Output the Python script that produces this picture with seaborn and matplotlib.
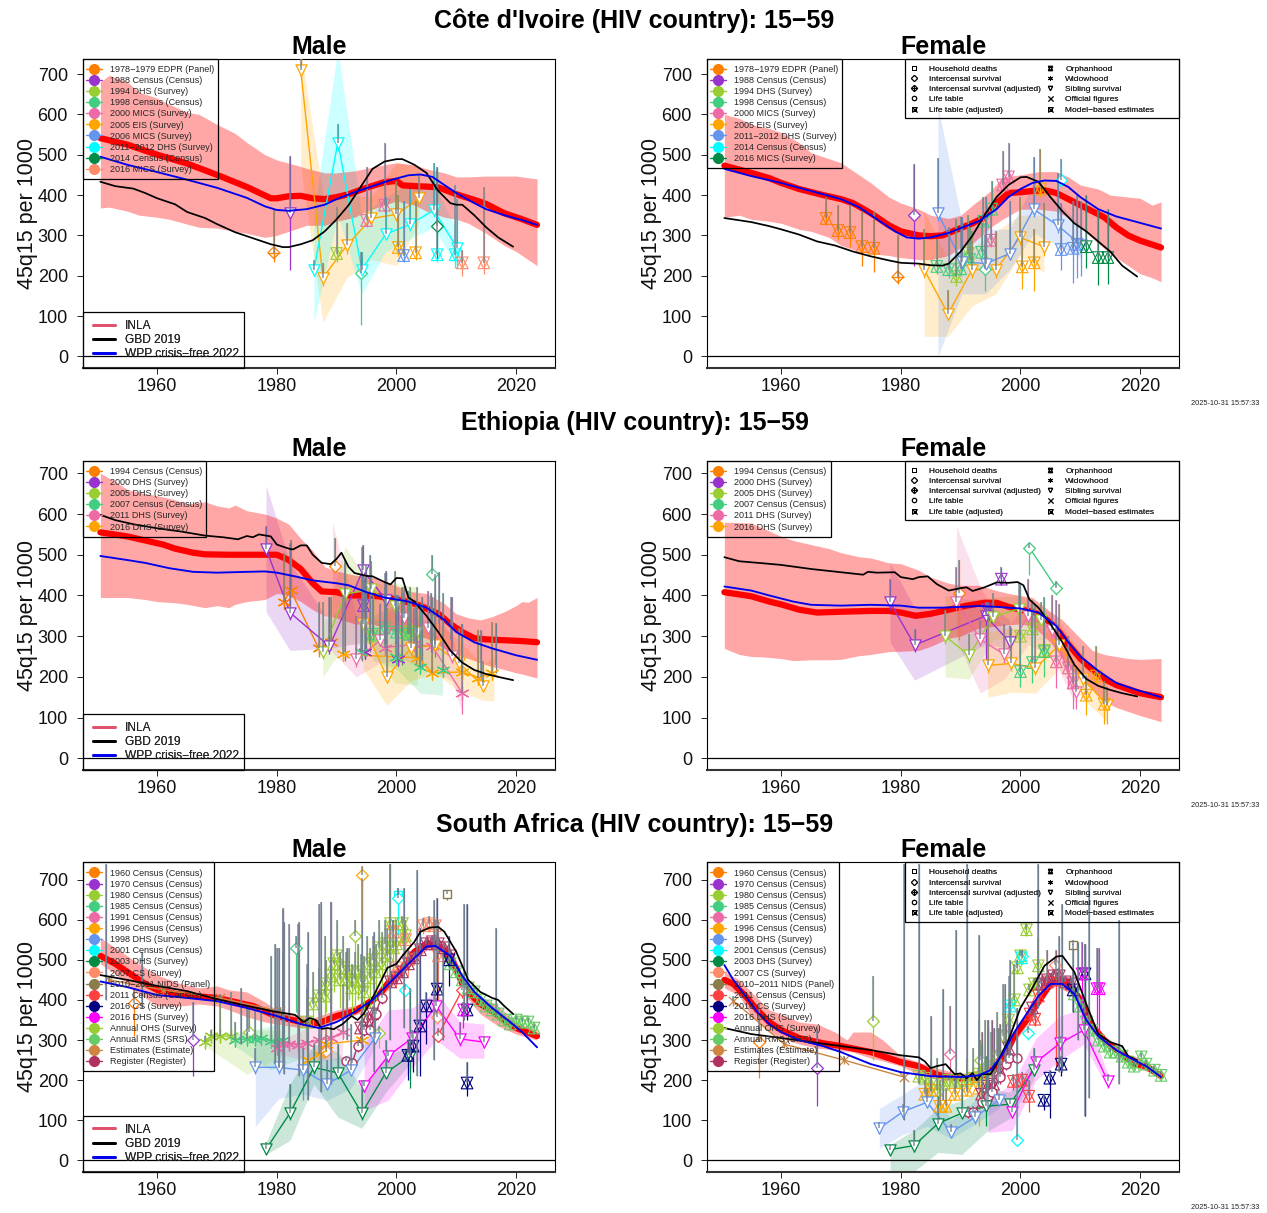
import matplotlib
matplotlib.use("Agg")
import matplotlib.pyplot as plt
from matplotlib.lines import Line2D
from matplotlib.patches import Rectangle
import seaborn as sns

sns.set_theme(style="ticks")
plt.rcParams["font.family"] = ["Liberation Sans", "DejaVu Sans"]

# Colours of the surveys, same order as the legends
ORANGE1, PURPLE, YGREEN, SEA3 = "#FF7F00", "#9A32CD", "#9ACD32", "#43CD80"
PINK, ORANGE, CORN, CYAN = "#EE6AA7", "#FFA500", "#6495ED", "#00FFFF"
SEA4, SALMON, NIDS, RED = "#008B45", "#FF8C69", "#8B7D4B", "#FF4040"
NAVY, MAGENTA, RMS, PERU, MAROON = "#000080", "#FF00FF", "#66CD66", "#CD853F", "#B03060"
GREY = "#708090"

# ---- Cote d'Ivoire male: curves
ci_m_x = [1950.5, 1955, 1960, 1965, 1970, 1975, 1979, 1980, 1982, 1984, 1986, 1988, 1990, 1992, 1995, 1998, 2000, 2001, 2003, 2005, 2007, 2010, 2013, 2015, 2018, 2021, 2023.5]
ci_m_inla = [541, 525, 500, 478, 450, 420, 392, 392, 397, 398, 392, 390, 395, 402, 418, 432, 435, 424, 422, 421, 419, 402, 388, 378, 355, 340, 326]
ci_m_band_x = [1950.5, 1952, 1955, 1957, 1960, 1962, 1965, 1967, 1970, 1973, 1975, 1978, 1980, 1983, 1985, 1988, 1990, 1993, 1995, 1998, 2000, 2003, 2005, 2008, 2010, 2012, 2015, 2018, 2020, 2023.5]
ci_m_hi = [680, 697, 680, 655, 640, 625, 605, 600, 575, 553, 530, 500, 487, 475, 466, 455, 455, 460, 466, 475, 480, 475, 465, 455, 445, 445, 447, 447, 447, 440]
ci_m_lo = [368, 370, 360, 350, 345, 340, 328, 320, 318, 310, 305, 295, 300, 315, 325, 325, 335, 345, 360, 375, 385, 375, 360, 345, 340, 330, 305, 275, 260, 225]
ci_m_gbd_x = [1950.5, 1953, 1956, 1958, 1960, 1963, 1965, 1968, 1970, 1973, 1976, 1979, 1981, 1982, 1984, 1986, 1988, 1990, 1992, 1994, 1996, 1998, 2000, 2001, 2003, 2005, 2007, 2009, 2010, 2011, 2013, 2015, 2017, 2019.5]
ci_m_gbd = [433, 422, 416, 405, 392, 377, 358, 343, 328, 308, 293, 278, 271, 271, 278, 288, 310, 340, 375, 420, 465, 483, 489, 489, 475, 455, 410, 380, 376, 376, 350, 320, 295, 272]
ci_m_wpp_x = [1950.5, 1955, 1960, 1965, 1970, 1975, 1978, 1980, 1982, 1985, 1988, 1990, 1993, 1996, 1999, 2002, 2004, 2006, 2008, 2010, 2013, 2015, 2018, 2021, 2023.5]
ci_m_wpp = [495, 475, 457, 438, 418, 393, 372, 363, 361, 365, 376, 390, 407, 422, 437, 449, 451, 445, 425, 405, 380, 365, 350, 338, 326]
# rows are year, value, lower, upper
ci_m_edpr = [(1979.5, 257, 235, 365)]
ci_m_c88 = [(1982.2, 355, 215, 497)]
ci_m_dhs94 = [(1990, 255, 235, 370)]
ci_m_c98 = [(1994, 207, 78, 258)]
ci_m_mics00 = [(1995, 337, 320, 470), (1998, 375, 355, 530)]
ci_m_eis_sib = [(1984, 710, 690, 740), (1987.7, 195, 175, 232), (1991.7, 275, 255, 330), (1995.8, 342, 325, 415), (2000, 352, 335, 435), (2003.8, 392, 375, 450)]
ci_m_eis_orph = [(2000.3, 270, 250, 400), (2003.2, 257, 240, 385)]
ci_m_mics06 = [(2001.2, 250, 235, 385)]
ci_m_dhs11_sib = [(1986.2, 215, 200, 240), (1990.2, 530, 510, 575), (1994.2, 215, 200, 258), (1998.2, 303, 290, 395), (2002.2, 327, 310, 415), (2006.2, 362, 345, 480), (2010.2, 268, 220, 390)]
ci_m_dhs11_orph = [(2006.8, 252, 235, 465), (2009.8, 252, 220, 425)]
ci_m_c14 = [(2006.8, 323, 240, 470)]
ci_m_mics16 = [(2011, 232, 200, 265), (2014.6, 232, 205, 420)]
ci_m_eis_band = [(1984, 470, 760), (1987.7, 85, 400), (1991.7, 195, 400), (1995.8, 240, 395), (2000, 225, 480), (2003.8, 330, 470)]
ci_m_dhs11_band = [(1986.2, 85, 360), (1990.2, 350, 760), (1994.2, 155, 350), (1998.2, 260, 395), (2002.2, 290, 430), (2006.2, 320, 430), (2010.2, 220, 310)]

# ---- Cote d'Ivoire female: curves
ci_f_x = [1950.5, 1955, 1958, 1960, 1963, 1967, 1970, 1972, 1975, 1978, 1980, 1983, 1985, 1987, 1990, 1992, 1994, 1996, 1998, 2000, 2002, 2004, 2006, 2008, 2010, 2012, 2014, 2016, 2018, 2020, 2023.5]
ci_f_inla = [473, 455, 442, 430, 415, 400, 390, 380, 355, 325, 310, 300, 298, 300, 318, 330, 345, 380, 405, 407, 410, 412, 405, 390, 375, 360, 345, 320, 300, 287, 270]
ci_f_band_x = [1950.5, 1953, 1955, 1958, 1960, 1963, 1965, 1968, 1970, 1973, 1975, 1978, 1980, 1983, 1985, 1988, 1990, 1992, 1995, 1997, 2000, 2003, 2006, 2008, 2010, 2013, 2015, 2018, 2020, 2022, 2023.5]
ci_f_hi = [600, 590, 575, 565, 555, 530, 505, 490, 480, 450, 430, 395, 380, 365, 350, 342, 350, 375, 410, 445, 450, 458, 458, 445, 425, 415, 400, 395, 392, 375, 383]
ci_f_lo = [345, 350, 340, 335, 330, 315, 310, 295, 275, 260, 255, 250, 245, 240, 240, 250, 270, 280, 320, 340, 365, 365, 360, 345, 320, 280, 255, 225, 205, 195, 185]
ci_f_gbd_x = [1950.5, 1955, 1958, 1960, 1963, 1966, 1969, 1972, 1975, 1978, 1980, 1983, 1985, 1987, 1988, 1990, 1992, 1994, 1996, 1998, 2000, 2001, 2003, 2005, 2007, 2009, 2011, 2013, 2015, 2017, 2019.5]
ci_f_gbd = [343, 333, 323, 315, 302, 285, 275, 260, 248, 238, 232, 230, 226, 225, 230, 260, 300, 350, 395, 425, 444, 445, 433, 395, 360, 330, 310, 285, 260, 225, 198]
ci_f_wpp_x = [1950.5, 1955, 1960, 1965, 1970, 1973, 1976, 1979, 1981, 1983, 1985, 1988, 1990, 1993, 1996, 1998, 2000, 2002, 2004, 2006, 2008, 2010, 2013, 2016, 2019, 2023.5]
ci_f_wpp = [465, 447, 430, 410, 390, 370, 340, 310, 295, 292, 295, 306, 318, 335, 365, 395, 415, 430, 436, 435, 420, 395, 365, 347, 335, 317]
ci_f_edpr_d = [(1979.5, 197, 180, 300)]
ci_f_edpr_o = [(1967.5, 342, 325, 395), (1969.5, 312, 288, 375), (1971.5, 307, 270, 375), (1973.5, 272, 225, 360), (1975.5, 268, 210, 360)]
ci_f_c88 = [(1982.2, 350, 225, 478)]
ci_f_dhs94 = [(1989.3, 198, 175, 340), (1991.3, 255, 235, 350)]
ci_f_c98_o = [(1986, 223, 205, 290), (1988, 215, 195, 320), (1990, 217, 200, 345), (1991.5, 240, 220, 320), (1993.5, 258, 240, 330)]
ci_f_c98_o2 = [(1993.8, 335, 320, 395), (1995.2, 365, 350, 435)]
ci_f_c98_d = [(1994, 217, 163, 300)]
ci_f_mics00 = [(1995, 288, 270, 360), (1997, 425, 410, 510), (1998, 445, 430, 530)]
ci_f_eis_sib = [(1983.9, 215, 195, 315), (1987.9, 105, 90, 165), (1991.9, 215, 195, 310), (1995.9, 215, 195, 310), (1999.9, 295, 275, 395), (2003.9, 272, 250, 380)]
ci_f_eis_orph = [(2000.3, 222, 167, 310), (2002.3, 232, 162, 315), (2003.3, 415, 395, 515)]
ci_f_dhs11_sib = [(1986.2, 355, 335, 492), (1990.2, 235, 215, 345), (1994.2, 230, 210, 395), (1998.2, 255, 240, 385), (2002.2, 365, 345, 495), (2006.2, 325, 305, 455), (2010.2, 275, 200, 385)]
ci_f_dhs11_orph = [(2006.8, 265, 215, 380), (2008.8, 268, 182, 385), (2009.5, 278, 195, 400)]
ci_f_c14 = [(2006.8, 438, 420, 490)]
ci_f_mics16 = [(2011, 272, 220, 400), (2013, 245, 177, 365), (2014.6, 245, 180, 365)]
ci_f_eis_band = [(1983.9, 50, 360), (1987.9, 50, 240), (1991.9, 125, 270), (1995.9, 155, 310), (1999.9, 250, 350), (2003.9, 208, 350)]
ci_f_dhs11_band = [(1986.2, 0, 620), (1990.2, 155, 335), (1994.2, 155, 315), (1998.2, 215, 315), (2002.2, 305, 430), (2006.2, 275, 385), (2010.2, 245, 320)]

# ---- Ethiopia male: curves
et_m_x = [1950.5, 1955, 1958, 1961, 1963, 1966, 1968, 1972, 1976, 1980, 1982, 1984, 1986, 1987.5, 1990, 1992, 1995, 1997, 2000, 2003, 2005, 2007, 2009, 2011, 2013, 2015, 2018, 2021, 2023.5]
et_m_inla = [555, 545, 535, 525, 515, 505, 501, 500, 500, 500, 487, 465, 430, 410, 408, 400, 400, 398, 390, 380, 368, 355, 330, 310, 295, 292, 290, 288, 285]
et_m_band_x = [1950.5, 1953, 1955, 1958, 1960, 1963, 1965, 1968, 1970, 1972, 1973, 1975, 1978, 1980, 1982, 1984, 1986, 1988, 1990, 1993, 1996, 1999, 2002, 2005, 2008, 2010, 2012, 2014, 2016, 2018, 2020, 2021, 2022, 2023.5]
et_m_hi = [700, 680, 660, 650, 645, 635, 625, 630, 620, 615, 622, 608, 600, 590, 575, 540, 510, 470, 460, 450, 445, 430, 410, 405, 380, 355, 345, 340, 348, 360, 375, 385, 383, 395]
et_m_lo = [395, 395, 395, 390, 385, 382, 378, 370, 375, 370, 378, 385, 390, 405, 400, 385, 365, 350, 345, 330, 330, 315, 305, 295, 270, 255, 245, 235, 225, 218, 210, 207, 203, 197]
et_m_gbd_x = [1950.5, 1953, 1956, 1960, 1964, 1968, 1971, 1973.5, 1975, 1976, 1977, 1979, 1980, 1982, 1982.7, 1984, 1985, 1986, 1987.5, 1989, 1990, 1990.8, 1992, 1993, 1995, 1996, 1998, 1999, 2000, 2001, 2002, 2003, 2005, 2007, 2009, 2011, 2013, 2015, 2017, 2019.5]
et_m_gbd = [598, 585, 575, 565, 557, 547, 543, 538, 546, 543, 550, 545, 525, 515, 513, 523, 523, 500, 480, 477, 490, 505, 470, 455, 448, 447, 433, 427, 443, 442, 395, 385, 350, 310, 265, 235, 217, 207, 200, 192]
et_m_wpp_x = [1950.5, 1955, 1958, 1962, 1966, 1970, 1975, 1978, 1980, 1983, 1986, 1990, 1992, 1995, 1998, 2002, 2005, 2008, 2010, 2013, 2016, 2020, 2023.5]
et_m_wpp = [497, 487, 480, 467, 458, 456, 458, 459, 456, 447, 437, 430, 425, 408, 395, 385, 370, 340, 310, 285, 270, 253, 242]
et_m_c94_w = [(1981.2, 385, 370, 505), (1982.3, 413, 395, 535), (1987, 270, 250, 385), (1989, 285, 265, 395)]
et_m_c94_d = [(1989.7, 472, 455, 540)]
et_m_d00_s = [(1978.2, 515, 500, 570), (1982.2, 358, 340, 530), (1988.8, 275, 255, 395), (1994.4, 462, 445, 525), (1998.2, 390, 375, 460)]
et_m_d00_w = [(1994.7, 262, 245, 445), (2000.3, 245, 230, 400)]
et_m_d00_o = [(1994.5, 375, 360, 440)]
et_m_d05_s = [(1987.7, 262, 245, 385), (1991.4, 403, 385, 480), (1995.7, 415, 400, 485), (1999.7, 375, 360, 460), (2003.5, 310, 295, 420)]
et_m_d05_o = [(1996, 300, 285, 400), (2001, 310, 290, 420), (2002.3, 305, 285, 420)]
et_m_c07_d = [(2006, 452, 435, 500)]
et_m_c07_o = [(1996, 305, 290, 390), (1998, 320, 300, 420), (2000, 310, 290, 400), (2002, 305, 285, 410)]
et_m_c07_w = [(1994, 260, 245, 340), (2000, 250, 235, 355), (2004, 225, 210, 380), (2007.7, 218, 205, 405)]
et_m_d11_s = [(1993.3, 243, 225, 350), (1997.3, 290, 275, 380), (2001.3, 345, 330, 420), (2005.3, 320, 305, 410), (2009.3, 252, 235, 395)]
et_m_d11_w = [(1998, 272, 255, 380), (2003, 280, 265, 370), (2006, 275, 260, 395), (2011, 160, 110, 330)]
et_m_d16_s = [(1994.4, 330, 315, 445), (1998.4, 200, 185, 370), (2002.4, 270, 255, 390), (2006.4, 278, 260, 400), (2010.4, 235, 215, 320), (2014.4, 178, 165, 240)]
et_m_d16_w = [(1991, 255, 240, 400), (2003.5, 247, 230, 340), (2006, 210, 195, 390), (2011, 212, 195, 310), (2013.7, 198, 180, 315), (2016, 210, 195, 335)]
et_m_tall = [(1991.4, 260, 240, 487), (1994.2, 260, 240, 520), (1994.9, 280, 260, 475), (1995.5, 280, 260, 500), (1998, 280, 260, 455), (1998.3, 280, 260, 455), (2000, 280, 260, 400), (2001, 250, 230, 407), (2003.3, 250, 230, 378), (2004.2, 240, 220, 395), (2005.7, 280, 260, 407), (2006.4, 270, 250, 452), (2007.1, 330, 310, 457), (2009.1, 290, 270, 395), (2011, 230, 210, 330), (2014.1, 200, 180, 315), (2016.6, 230, 210, 333)]
et_m_d00_band = [(1978.2, 360, 670), (1982.2, 265, 480), (1988.8, 270, 335), (1994.4, 285, 450)]
et_m_d05_band = [(1987.7, 200, 320), (1991.4, 280, 520), (1995.7, 280, 430), (1999.7, 185, 430), (2003.5, 180, 420)]
et_m_c07_band = [(1996, 240, 350), (2000, 220, 380), (2004, 160, 350), (2007.7, 155, 280)]
et_m_d11_band = [(1989.3, 260, 580), (1993.3, 200, 350), (1997.3, 235, 340), (2001.3, 240, 400), (2005.3, 220, 380), (2009.3, 190, 300), (2011, 110, 200)]
et_m_d16_band = [(1994.4, 220, 370), (1998.4, 130, 270), (2002.4, 190, 330), (2006.4, 210, 340), (2010.4, 165, 290), (2014.4, 143, 230), (2016.3, 140, 250)]

# ---- Ethiopia female: curves
et_f_x = [1950.5, 1955, 1958, 1960, 1963, 1966, 1970, 1975, 1978, 1980, 1982.5, 1985, 1988, 1991, 1994, 1996, 1998, 2000, 2002, 2004, 2006, 2008, 2010, 2012, 2014, 2016, 2018, 2020, 2023.5]
et_f_inla = [408, 398, 385, 378, 365, 358, 360, 362, 362, 358, 350, 355, 365, 375, 382, 382, 372, 365, 360, 345, 320, 280, 245, 218, 195, 180, 170, 160, 150]
et_f_band_x = [1950.5, 1953, 1955, 1957, 1960, 1962, 1965, 1968, 1970, 1973, 1975, 1978, 1980, 1983, 1985, 1988, 1990, 1993, 1996, 1998, 2000, 2002, 2005, 2007, 2010, 2012, 2014, 2016, 2018, 2020, 2023.5]
et_f_hi = [580, 579, 578, 565, 545, 535, 525, 515, 505, 495, 492, 480, 478, 462, 445, 430, 425, 425, 412, 405, 400, 395, 360, 340, 295, 265, 255, 250, 245, 243, 245]
et_f_lo = [270, 255, 250, 249, 245, 240, 242, 242, 243, 252, 255, 262, 263, 265, 275, 295, 300, 320, 325, 328, 330, 325, 285, 245, 195, 170, 140, 125, 115, 105, 90]
et_f_gbd_x = [1950.5, 1953, 1957, 1960, 1965, 1970, 1973.7, 1974.5, 1976, 1979, 1980, 1982, 1983, 1984.5, 1986, 1988, 1990, 1991, 1992, 1994, 1996, 1998, 1999.5, 2000.5, 2001.5, 2003, 2005, 2007, 2009, 2011, 2013, 2015, 2017, 2019.5]
et_f_gbd = [494, 484, 479, 475, 465, 457, 451, 458, 456, 457, 445, 440, 445, 447, 428, 412, 418, 420, 411, 420, 432, 431, 433, 425, 390, 370, 330, 285, 230, 195, 178, 168, 160, 152]
et_f_wpp_x = [1950.5, 1955, 1958, 1962, 1965, 1970, 1975, 1980, 1983, 1987, 1990, 1993, 1996, 2000, 2003, 2006, 2008, 2010, 2013, 2016, 2019, 2023.5]
et_f_wpp = [422, 412, 400, 385, 377, 375, 377, 375, 370, 370, 372, 374, 372, 368, 358, 325, 285, 250, 215, 185, 170, 150]
et_f_c94 = [(1989.8, 405, 290, 487)]
et_f_d00_s = [(1978.2, 383, 365, 440), (1982.3, 278, 260, 318), (1994.2, 350, 235, 385), (1998.2, 285, 265, 325)]
et_f_d00_o = [(1994.5, 365, 345, 385), (1996.8, 440, 425, 470)]
et_f_d05_s = [(1987.4, 300, 280, 365), (1991.4, 253, 235, 305), (1995.4, 347, 330, 405), (1999.7, 367, 345, 430), (2003.5, 340, 320, 385)]
et_f_d05_o = [(2000, 300, 280, 420), (2002, 318, 300, 390), (2004, 265, 245, 320)]
et_f_c07_d = [(2001.5, 517, 450, 530), (2006, 418, 400, 435)]
et_f_c07_o = [(2000, 213, 175, 425), (2002, 235, 185, 380), (2004, 262, 200, 395)]
et_f_d11_s = [(1989.3, 385, 365, 470), (1993.3, 292, 275, 340), (1997.3, 255, 235, 330), (2001.3, 350, 330, 440), (2005.3, 315, 295, 400), (2009.3, 163, 120, 220)]
et_f_d11_o = [(2006, 237, 172, 390), (2008, 222, 170, 300), (2008.8, 185, 120, 230)]
et_f_d16_s = [(1994.5, 228, 210, 350), (1998.5, 233, 215, 320), (2002.5, 222, 205, 380), (2006.5, 278, 260, 380), (2010.5, 195, 175, 275), (2014.5, 130, 85, 175)]
et_f_d16_o = [(2011, 155, 107, 205), (2012.7, 202, 185, 275), (2014, 133, 85, 190)]
et_f_d00_band = [(1978.2, 285, 480), (1982.3, 192, 370), (1994.2, 280, 380), (1998.2, 270, 340)]
et_f_d05_band = [(1987.4, 200, 400), (1991.4, 195, 390), (1995.4, 290, 395), (1999.7, 300, 400), (2003.5, 290, 375)]
et_f_d11_band = [(1989.3, 290, 570), (1993.3, 160, 420), (1997.3, 195, 315), (2001.3, 280, 385), (2005.3, 250, 355), (2009.3, 130, 220)]
et_f_d16_band = [(1994.5, 150, 310), (1998.5, 162, 320), (2002.5, 160, 290), (2006.5, 220, 335), (2010.5, 145, 250), (2014.5, 90, 185)]

# ---- South Africa male: curves
za_m_x = [1950.5, 1953, 1956, 1958, 1960, 1963, 1966, 1970, 1973, 1976, 1979, 1982, 1985, 1987, 1990, 1993, 1995, 1997, 1999, 2001, 2003, 2005, 2006, 2008, 2010, 2011, 2012, 2014, 2016, 2018, 2020, 2023.5]
za_m_inla = [510, 490, 460, 440, 425, 415, 410, 405, 395, 385, 365, 352, 342, 342, 360, 372, 390, 410, 450, 480, 520, 540, 538, 525, 480, 440, 420, 390, 372, 350, 330, 310]
za_m_band_x = [1950.5, 1953, 1956, 1958, 1960, 1964, 1967, 1970, 1972, 1975, 1978, 1980, 1983, 1986, 1990, 1994, 1996, 1999, 2002, 2005, 2007, 2009, 2011, 2014, 2017, 2020, 2023.5]
za_m_hi = [555, 530, 500, 480, 462, 440, 430, 435, 425, 420, 395, 375, 365, 355, 375, 390, 410, 465, 505, 550, 555, 530, 460, 410, 385, 345, 325]
za_m_lo = [490, 465, 425, 405, 385, 385, 390, 385, 375, 358, 345, 340, 333, 330, 345, 368, 390, 430, 480, 525, 520, 485, 420, 365, 335, 315, 300]
za_m_gbd_x = [1950.5, 1955, 1960, 1965, 1970, 1975, 1980, 1983, 1984.5, 1985.5, 1986.5, 1987.5, 1988.5, 1989.5, 1991, 1992.5, 1993.5, 1994.5, 1996, 1997.5, 1998.5, 2000, 2001, 2003, 2004, 2005.5, 2007, 2008, 2010, 2012, 2014, 2016, 2017, 2018, 2019.5]
za_m_gbd = [462, 450, 435, 422, 402, 385, 370, 363, 345, 355, 350, 328, 330, 327, 340, 360, 350, 365, 405, 450, 480, 490, 510, 545, 570, 580, 582, 570, 520, 450, 420, 405, 400, 385, 365]
za_m_wpp_x = [1950.5, 1955, 1960, 1965, 1970, 1975, 1980, 1984, 1987, 1990, 1993, 1996, 1999, 2002, 2005, 2006.5, 2009, 2011, 2013, 2016, 2019, 2021, 2023.5]
za_m_wpp = [446, 432, 412, 405, 397, 380, 360, 340, 330, 345, 370, 400, 445, 490, 533, 535, 510, 460, 420, 380, 345, 320, 282]
za_m_c60 = [(1956.2, 392, 310, 430)]
za_m_c70 = [(1966, 300, 210, 395)]
za_m_c80_d = [(1975.3, 320, 305, 380), (1993, 560, 490, 600), (1997, 318, 280, 335)]
za_m_c85_d = [(1983.2, 530, 370, 560)]
za_m_c96_d = [(1994.3, 712, 600, 735)]
za_m_c01_d = [(2000.3, 655, 560, 680), (2001.4, 425, 410, 440)]
za_m_c01_s = [(2000.3, 662, 650, 680)]
za_m_nids = [(2008.4, 665, 650, 675)]
za_m_c11_d = [(2006.9, 310, 295, 330), (2011, 425, 405, 445)]
za_m_cs07_d = [(2006.8, 357, 340, 375), (1988.2, 273, 255, 300)]
za_m_c80_w = [(1968, 295, 280, 310), (1969, 310, 295, 325), (1970.5, 310, 295, 400), (1972.3, 310, 295, 420)]
za_m_c85_w = [(1973, 300, 285, 345), (1975, 303, 290, 390), (1976.3, 302, 290, 380), (1977.3, 305, 290, 385), (1979, 298, 285, 510), (1981, 300, 285, 520)]
za_m_c91_w = [(1980, 280, 265, 530), (1981, 290, 275, 625), (1982, 290, 275, 590), (1983.5, 288, 275, 590), (1985, 292, 280, 490), (1987, 300, 285, 640), (1989, 305, 290, 645), (1991, 320, 305, 440)]
za_m_c96_w = [(1985.2, 250, 235, 300), (1987, 265, 250, 300), (1988.3, 290, 275, 330), (1994.2, 300, 285, 400)]
za_m_est = [(1952, 450, 440, 460), (1961, 425, 415, 435), (1970.5, 405, 395, 415), (1980.5, 372, 362, 382)]
za_m_dhs98 = [(1976.4, 232, 215, 280), (1980.4, 232, 215, 300), (1984.4, 225, 150, 280), (1988.4, 190, 175, 250), (1992.4, 225, 210, 340), (1996.4, 305, 290, 370)]
za_m_dhs03 = [(1978.2, 28, 15, 45), (1982.2, 118, 100, 190), (1986.2, 232, 215, 290), (1990.2, 218, 205, 290), (1994.2, 118, 100, 200), (1998.2, 218, 205, 300), (2002.2, 260, 180, 430)]
za_m_dhs16 = [(1994.6, 185, 170, 200), (1998.6, 260, 245, 275), (2002.6, 305, 290, 325), (2006.6, 385, 370, 405), (2010.6, 303, 285, 345), (2014.6, 295, 280, 310)]
za_m_cs16 = [(2001.9, 262, 200, 300), (2002.8, 285, 220, 315), (2003.9, 335, 210, 580), (2005, 385, 290, 420), (2006.8, 427, 385, 655), (2008.8, 500, 435, 560), (2011.8, 375, 350, 640), (2011.8, 193, 160, 245)]
za_m_d16_o = [(2011.2, 375, 330, 395)]
za_m_ohs = [(1985, 345, 200, 430), (1986, 390, 330, 470), (1987, 410, 345, 480), (1988, 410, 340, 560), (1988.3, 440, 370, 500), (1989, 460, 390, 500), (1989.5, 490, 420, 500), (1990, 510, 440, 600), (1990.5, 450, 380, 520), (1991, 480, 400, 560), (1991.5, 450, 380, 520), (1992, 470, 400, 530), (1992.5, 430, 360, 490), (1993, 450, 380, 520), (1993.5, 470, 400, 540), (1994, 445, 370, 515), (1994.5, 420, 350, 510), (1995, 490, 420, 560), (1995.5, 455, 380, 530), (1996, 500, 430, 560), (1996.5, 470, 400, 540), (1997, 530, 460, 600), (1997.5, 490, 420, 570), (1998, 540, 470, 600), (1998.5, 510, 440, 580), (1999, 590, 520, 740), (1999.5, 530, 460, 600), (2000, 540, 470, 600), (2001, 590, 540, 610), (2001.5, 560, 510, 600)]
za_m_cs07_o = [(1999.5, 570, 540, 600), (2001.5, 550, 500, 580), (2004.5, 585, 565, 605), (2005.5, 590, 570, 610), (2006.5, 585, 360, 600), (2007, 510, 400, 600), (2000, 480, 430, 560), (2002, 500, 460, 530)]
za_m_reg_o = [(1994, 330, 315, 350), (1995, 350, 335, 370), (1996, 365, 345, 385), (1999, 445, 430, 460), (2000, 455, 440, 470), (2001, 470, 455, 490), (2002, 490, 475, 505), (2003, 505, 490, 520), (2004, 525, 510, 540), (2005, 540, 525, 555), (2006, 545, 530, 560), (2007, 540, 525, 555), (2008, 530, 515, 545), (2009, 510, 495, 525)]
za_m_reg_l = [(1991.6, 248, 235, 260), (1992.6, 242, 230, 255), (1993.5, 286, 270, 300), (1994.5, 324, 310, 340), (1995.6, 325, 310, 340), (1996.5, 366, 350, 380), (1997.5, 406, 390, 420)]
za_m_rms = [(2009, 490, 480, 500), (2010, 470, 460, 480), (2011, 450, 440, 460), (2012, 430, 420, 440), (2013, 420, 410, 430), (2014, 400, 390, 410), (2015, 385, 375, 395), (2016, 375, 365, 385), (2017, 365, 355, 375), (2018, 350, 340, 360), (2019, 340, 330, 350), (2020, 350, 340, 360), (2021, 345, 335, 355), (2022, 345, 335, 355), (2023, 330, 320, 340)]
za_m_tall = [(1951.5, 400, 400, 740), (1957.5, 380, 380, 520), (1974, 290, 290, 430), (1979.7, 240, 240, 540), (1980.4, 230, 230, 530), (1981, 230, 230, 630), (1981.2, 215, 215, 595), (1983.7, 210, 210, 595), (1985.2, 150, 150, 570), (1987.4, 170, 170, 645), (1989.1, 190, 190, 645), (1991.8, 300, 300, 530), (1994.3, 280, 280, 705), (1996.3, 220, 220, 570), (1999, 300, 300, 740), (2001.3, 330, 330, 680), (2003.5, 210, 210, 725), (2006.3, 250, 250, 650), (2007.7, 300, 300, 530), (2011.3, 350, 350, 640), (2016.6, 360, 360, 580)]
za_m_band_dhs98 = [(1976.4, 85, 310), (1980.4, 155, 300), (1984.4, 165, 290), (1988.4, 150, 250), (1992.4, 180, 265), (1996.4, 280, 330)]
za_m_band_dhs03 = [(1978.2, 15, 45), (1982.2, 50, 190), (1986.2, 190, 290), (1990.2, 108, 270), (1994.2, 80, 180), (1998.2, 170, 260), (2002.2, 240, 285)]
za_m_band_dhs16 = [(1994.6, 125, 290), (1998.6, 150, 375), (2002.6, 230, 380), (2006.6, 300, 420), (2010.6, 255, 345), (2014.6, 255, 340)]
za_m_band_c80 = [(1968, 285, 305), (1975, 215, 325), (1981, 260, 325)]
za_m_band_c85 = [(1973, 285, 315), (1979, 225, 335), (1985, 260, 345)]
za_m_band_c91 = [(1980, 265, 295), (1985, 250, 330), (1991, 250, 340)]

# ---- South Africa female: curves
za_f_x = [1950.5, 1952, 1954, 1956, 1958, 1960, 1963, 1967, 1970, 1975, 1980, 1983, 1985, 1987, 1990, 1993, 1995, 1997, 1999, 2001, 2003, 2005, 2006, 2008, 2010, 2012, 2014, 2017, 2019, 2021, 2023.5]
za_f_inla = [450, 440, 410, 375, 345, 325, 305, 292, 285, 270, 245, 235, 220, 210, 205, 205, 222, 260, 310, 350, 395, 440, 450, 445, 400, 335, 300, 265, 240, 235, 210]
za_f_band_x = [1950.5, 1953, 1955, 1958, 1960, 1963, 1966, 1969, 1971, 1972, 1975, 1977, 1980, 1983, 1986, 1990, 1995, 1998, 2001, 2004, 2006, 2009, 2011, 2014, 2017, 2020, 2023.5]
za_f_hi = [470, 450, 420, 375, 365, 345, 340, 320, 300, 320, 320, 300, 260, 245, 230, 215, 232, 290, 370, 440, 465, 440, 375, 300, 270, 255, 220]
za_f_lo = [430, 410, 360, 320, 305, 290, 280, 275, 272, 270, 255, 248, 235, 215, 202, 195, 210, 275, 335, 420, 435, 410, 340, 290, 255, 230, 205]
za_f_gbd_x = [1950.5, 1955, 1960, 1965, 1970, 1975, 1980, 1983, 1984, 1985, 1986, 1987.5, 1989, 1990, 1991, 1992, 1992.7, 1993.5, 1995, 1996, 1998, 2000, 2002, 2004, 2006, 2007, 2009, 2011, 2013, 2015, 2017, 2018, 2019.5]
za_f_gbd = [330, 315, 305, 295, 285, 275, 262, 257, 247, 230, 235, 240, 215, 217, 205, 218, 200, 215, 215, 240, 300, 380, 430, 485, 508, 510, 470, 390, 315, 295, 285, 260, 250]
za_f_wpp_x = [1950.5, 1952, 1954, 1956, 1958, 1960, 1963, 1967, 1970, 1975, 1980, 1985, 1990, 1993, 1995, 1997, 1999, 2001, 2003, 2005, 2007, 2009, 2011, 2013, 2016, 2019, 2021, 2023.5]
za_f_wpp = [487, 450, 410, 370, 340, 320, 300, 285, 270, 240, 220, 210, 208, 212, 225, 265, 320, 365, 410, 440, 440, 415, 350, 310, 275, 250, 235, 208]
za_f_c60 = [(1956.3, 295, 205, 390)]
za_f_c70 = [(1966, 230, 135, 330)]
za_f_c80_d = [(1975.4, 348, 250, 460), (1993.3, 250, 200, 300)]
za_f_c91_d = [(1988.2, 265, 200, 385)]
za_f_c01_d = [(1999.5, 52, 40, 310), (2001.3, 317, 300, 335), (2000.3, 510, 490, 525)]
za_f_cs07_d = [(2005.7, 488, 470, 505)]
za_f_nids = [(2008.8, 538, 525, 550)]
za_f_est = [(1952, 398, 385, 410), (1960.5, 290, 280, 300), (1970.5, 250, 240, 260), (1980.5, 208, 198, 220)]
za_f_dhs98 = [(1976.4, 80, 65, 95), (1980.4, 122, 105, 140), (1984.4, 145, 130, 180), (1988.4, 70, 55, 90), (1992.4, 108, 90, 125), (1996.4, 150, 135, 165)]
za_f_dhs03 = [(1978.2, 27, 15, 40), (1982.2, 37, 22, 75), (1986.2, 92, 75, 160), (1990.2, 118, 105, 190), (1994.2, 135, 85, 260), (1998.2, 140, 125, 155), (2002.2, 225, 210, 280)]
za_f_dhs16 = [(1998.6, 120, 105, 135), (2002.6, 245, 230, 260), (2006.6, 292, 275, 310), (2010.6, 325, 310, 345), (2014.6, 197, 180, 215)]
za_f_cs16 = [(2003.9, 150, 125, 165), (2004.9, 205, 105, 225), (2006.8, 240, 210, 260), (2008.8, 425, 370, 470), (2010.8, 465, 110, 540)]
za_f_d16_o = [(2010.3, 465, 340, 545), (2012.8, 428, 320, 530), (2013.2, 428, 320, 530)]
za_f_c11_o = [(1998.8, 197, 175, 215), (2000.2, 200, 180, 220), (2001.4, 160, 120, 200), (2001.6, 365, 345, 385), (2002.4, 352, 335, 370), (2003, 410, 390, 430), (2004.5, 445, 425, 525), (2006, 450, 230, 525)]
za_f_ohs = [(1983, 210, 195, 225), (1984, 205, 190, 225), (1985, 190, 175, 250), (1986, 175, 160, 255), (1987, 190, 175, 210), (1988, 200, 185, 215), (1989, 195, 180, 215), (1990, 200, 185, 215), (1991, 200, 185, 255), (1992, 205, 190, 280), (1993, 215, 200, 350), (1994, 225, 210, 350), (1995, 235, 220, 320), (1996, 260, 245, 370), (1997, 310, 295, 440), (1998, 350, 335, 460), (1999, 400, 385, 490), (1999.5, 480, 465, 500), (2000, 510, 495, 525), (2001, 575, 560, 590), (2003, 485, 470, 555), (2001.5, 425, 410, 440), (2002.3, 440, 425, 455)]
za_f_c96_o = [(1984, 165, 150, 200), (1985, 175, 160, 200), (1986.5, 135, 120, 200), (1987.5, 135, 120, 180), (1989, 165, 150, 200), (1991, 175, 160, 205), (1993, 180, 85, 215)]
za_f_c01_o = [(1998.3, 385, 370, 400), (2000.2, 505, 490, 525)]
za_f_reg_l = [(1991.2, 122, 105, 135), (1992.1, 122, 105, 135), (1993.5, 145, 130, 290), (1994.5, 160, 145, 350), (1995.2, 170, 155, 350), (1996.5, 207, 190, 330), (1997.5, 240, 225, 340), (1998, 255, 240, 350), (1999.5, 255, 240, 380)]
za_f_reg_o = [(1993.5, 165, 150, 320), (1994.5, 185, 170, 330), (1995.5, 190, 175, 330), (1996.5, 225, 210, 340), (1998, 280, 265, 360), (2002, 380, 365, 395), (2003.5, 440, 425, 455), (2004.5, 450, 435, 465), (2005.5, 460, 445, 475), (2006.5, 460, 445, 475), (2007.5, 445, 430, 460), (2008.5, 440, 425, 455)]
za_f_rms = [(2009, 415, 405, 425), (2010, 385, 375, 395), (2011, 345, 335, 355), (2012, 325, 315, 335), (2013, 300, 290, 310), (2014, 285, 275, 295), (2015, 270, 260, 280), (2016, 270, 260, 280), (2017, 260, 250, 270), (2018, 245, 235, 255), (2019, 235, 225, 245), (2020.2, 258, 248, 268), (2021, 240, 230, 250), (2022.4, 225, 215, 235), (2023.5, 212, 205, 222)]
za_f_tall = [(1980.6, 100, 100, 740), (1983, 190, 190, 740), (1985, 170, 170, 361), (1987, 150, 150, 428), (1989.3, 180, 180, 575), (1991.1, 170, 170, 740), (1993, 175, 175, 563), (1994.6, 130, 130, 350), (1996.2, 190, 190, 330), (1997.4, 250, 250, 440), (1998.3, 260, 260, 500), (2003, 380, 380, 740), (2006.4, 220, 220, 560), (2006.9, 220, 220, 640), (2008.8, 370, 370, 540), (2009.6, 300, 300, 545), (2010.8, 110, 110, 540), (2011.5, 155, 155, 700), (2016.5, 190, 190, 600)]
za_f_band_dhs98 = [(1976.4, 30, 130), (1980.4, 65, 165), (1984.4, 85, 205), (1988.4, 55, 100), (1992.4, 90, 150), (1996.4, 130, 185)]
za_f_band_dhs03 = [(1978.2, -28, 40), (1982.2, -28, 75), (1986.2, 20, 130), (1990.2, 15, 150), (1994.2, 70, 180), (1998.2, 105, 170), (2002.2, 200, 250)]
za_f_band_dhs16 = [(1994.6, 70, 155), (1998.6, 75, 190), (2002.6, 200, 305), (2006.6, 250, 360), (2010.6, 290, 380), (2014.6, 180, 215)]

# ---- Legend texts
ci_m_labels = ["1978\u22121979 EDPR (Panel)", "1988 Census (Census)", "1994 DHS (Survey)", "1998 Census (Census)", "2000 MICS (Survey)", "2005 EIS (Survey)", "2006 MICS (Survey)", "2011\u22122012 DHS (Survey)", "2014 Census (Census)", "2016 MICS (Survey)"]
ci_m_cols = [ORANGE1, PURPLE, YGREEN, SEA3, PINK, ORANGE, CORN, CYAN, SEA4, SALMON]
ci_f_labels = ["1978\u22121979 EDPR (Panel)", "1988 Census (Census)", "1994 DHS (Survey)", "1998 Census (Census)", "2000 MICS (Survey)", "2005 EIS (Survey)", "2011\u22122012 DHS (Survey)", "2014 Census (Census)", "2016 MICS (Survey)"]
ci_f_cols = [ORANGE1, PURPLE, YGREEN, SEA3, PINK, ORANGE, CORN, CYAN, SEA4]
et_labels = ["1994 Census (Census)", "2000 DHS (Survey)", "2005 DHS (Survey)", "2007 Census (Census)", "2011 DHS (Survey)", "2016 DHS (Survey)"]
et_cols = [ORANGE1, PURPLE, YGREEN, SEA3, PINK, ORANGE]
za_labels = ["1960 Census (Census)", "1970 Census (Census)", "1980 Census (Census)", "1985 Census (Census)", "1991 Census (Census)", "1996 Census (Census)", "1998 DHS (Survey)", "2001 Census (Census)", "2003 DHS (Survey)", "2007 CS (Survey)", "2010\u22122011 NIDS (Panel)", "2011 Census (Census)", "2016 CS (Survey)", "2016 DHS (Survey)", "Annual OHS (Survey)", "Annual RMS (SRS)", "Estimates (Estimate)", "Register (Register)"]
za_cols = [ORANGE1, PURPLE, YGREEN, SEA3, PINK, ORANGE, CORN, CYAN, SEA4, SALMON, NIDS, RED, NAVY, MAGENTA, YGREEN, RMS, PERU, MAROON]
method_labels = ["Household deaths", "Intercensal survival", "Intercensal survival (adjusted)", "Life table", "Life table (adjusted)", "Orphanhood", "Widowhood", "Sibling survival", "Official figures", "Model\u2212based estimates"]
method_marks = [("s",), ("D",), ("D", "+"), ("o",), ("s", "x"), ("^", "v"), ((6, 2, 0),), ("v",), ("x",), ("s", "x")]
year_ticks = [1960, 1980, 2000, 2020]
value_ticks = [0, 100, 200, 300, 400, 500, 600, 700]

W, H = 1267, 1213
AX_W, AX_H = 472, 309
fig = plt.figure(figsize=(W / 100, H / 100), dpi=100)


def panel(left, top, right, bottom, ymin, ymax, title):
    ax = fig.add_axes([left / W, 1 - bottom / H, (right - left) / W, (bottom - top) / H])
    ax.set_xlim(1947.6, 2026.5)
    ax.set_ylim(ymin, ymax)
    ax.set_xticks(year_ticks)
    ax.set_yticks(value_ticks)
    ax.tick_params(axis="both", length=4.3, width=0.7, labelsize=13, color="#222222", labelcolor="#111111")
    ax.tick_params(axis="x", pad=3)
    ax.tick_params(axis="y", pad=6.5)
    for side in ax.spines:
        ax.spines[side].set_linewidth(0.8)
        ax.spines[side].set_color("black")
    ax.spines["bottom"].set_linewidth(1.5)
    ax.spines["bottom"].set_color("#333333")
    ax.set_title(title, fontsize=18, fontweight="bold", pad=3, color="black")
    ax.set_ylabel("45q15 per 1000", fontsize=15.5, color="#111111")
    ax.yaxis.set_label_coords(-0.095, 0.5)
    ax.axhline(0, color="black", lw=0.9, zorder=9)
    return ax


def curve(ax, x, y, color, lw, z):
    sns.lineplot(x=x, y=y, color=color, lw=lw, estimator=None, sort=False, legend=False,
                 ax=ax, zorder=z, solid_capstyle="round")


def band(ax, rows, color):
    ax.fill_between([r[0] for r in rows], [r[1] for r in rows], [r[2] for r in rows],
                    color=color, alpha=0.2, lw=0, zorder=1.5)


def obs(ax, rows, color, kind, line=False):
    xs = [r[0] for r in rows]
    ys = [r[1] for r in rows]
    ax.vlines(xs, [r[2] for r in rows], [r[3] for r in rows], color=color, lw=0.9, zorder=3)
    ax.vlines(xs, ys, [r[3] for r in rows], color=GREY, lw=1.2, alpha=0.8, zorder=4.5)
    if line:
        sns.lineplot(x=xs, y=ys, color=color, lw=1.0, estimator=None, sort=False, legend=False, ax=ax, zorder=3.2)
    common = dict(x=xs, y=ys, ax=ax, legend=False, zorder=4)
    if kind == "sib":
        sns.scatterplot(marker="v", s=65, facecolor="white", edgecolor=color, linewidth=0.9, **common)
    elif kind == "orph":
        sns.scatterplot(marker="v", s=70, facecolor="none", edgecolor=color, linewidth=0.8, **common)
        sns.scatterplot(marker="^", s=70, facecolor="none", edgecolor=color, linewidth=0.8, **common)
    elif kind == "wid":
        sns.scatterplot(marker=(6, 2, 0), s=90, color=color, linewidth=0.9, **common)
    elif kind == "dia":
        sns.scatterplot(marker="D", s=36, facecolor="white", edgecolor=color, linewidth=0.9, **common)
    elif kind == "dplus":
        sns.scatterplot(marker="D", s=36, facecolor="none", edgecolor=color, linewidth=0.9, **common)
        sns.scatterplot(marker="+", s=70, color=color, linewidth=0.9, **common)
    elif kind == "life":
        sns.scatterplot(marker="o", s=42, facecolor="white", edgecolor=color, linewidth=1.0, **common)
    elif kind == "square":
        sns.scatterplot(marker="s", s=32, facecolor="white", edgecolor=color, linewidth=1.0, **common)
    elif kind == "x":
        sns.scatterplot(marker="x", s=45, color=color, linewidth=0.9, **common)


def main_curves(ax, x, inla, bx, lo, hi, gx, gbd, wx, wpp):
    ax.fill_between(bx, lo, hi, color="#FF0000", alpha=0.35, lw=0, zorder=2)
    curve(ax, x, inla, "#FF0000", 4.5, 3.0)
    curve(ax, gx, gbd, "black", 1.25, 6)
    curve(ax, wx, wpp, "#0000EE", 1.35, 7)


def box(ax, x, y, w, h):
    # legend frame in pixels from the axes' lower left corner
    ax.add_patch(Rectangle((x / AX_W, y / AX_H), w / AX_W, h / AX_H, transform=ax.transAxes,
                           fill=False, ec="black", lw=0.9, zorder=20, clip_on=False))


def survey_legend(ax, labels, cols, width):
    handles = [Line2D([], [], color=c, lw=1.0, marker="o", ms=7) for c in cols]
    leg = ax.legend(handles, labels, loc="upper left", bbox_to_anchor=(2.7 / AX_W, 1 - 6.3 / AX_H), borderaxespad=0,
                    fontsize=6.45, frameon=False, handlelength=1.85, handletextpad=0.87, labelspacing=0.235, borderpad=0)
    leg.set_zorder(20)
    ax.add_artist(leg)
    h = 11 * len(labels) + 10.4
    box(ax, 0, AX_H - h, width, h)


def curve_legend(ax):
    handles = [Line2D([], [], color=c, lw=2) for c in ["#DF536B", "black", "#0000EE"]]
    leg = ax.legend(handles, ["INLA", "GBD 2019", "WPP crisis\u2212free 2022"], loc="upper left",
                    bbox_to_anchor=(10 / AX_W, 48 / AX_H), borderaxespad=0, fontsize=8.55, frameon=False,
                    handlelength=1.88, handletextpad=0.81, labelspacing=0.2, borderpad=0)
    leg.set_zorder(20)
    ax.add_artist(leg)
    box(ax, 0, 0, 161, 55.7)


def method_legend(ax):
    handles = []
    for marks in method_marks:
        parts = []
        for m in marks:
            if m in ["x", "+", (6, 2, 0)]:
                parts.append(Line2D([], [], color="black", lw=0, marker=m, ms=3.6, mew=0.7))
            else:
                parts.append(Line2D([], [], color="black", lw=0, marker=m, ms=3.2, mew=0.7, mfc="none"))
        handles.append(tuple(parts))
    leg = ax.legend(handles, method_labels, loc="upper left", bbox_to_anchor=(203.2 / AX_W, 1 - 6.1 / AX_H),
                    borderaxespad=0, ncols=2, fontsize=6.05, frameon=False, handlelength=1.0, handletextpad=1.28,
                    columnspacing=0.6, labelspacing=0.28, borderpad=0)
    leg.set_zorder(20)
    ax.add_artist(leg)
    box(ax, 198, AX_H - 59.3, 274, 59.3)


rows_px = [(58.7, 367.7, 738, -28), (460.7, 769.7, 731, -28), (862.3, 1171.7, 743, -28)]
titles = ["C\u00f4te d'Ivoire (HIV country): 15\u221259", "Ethiopia (HIV country): 15\u221259", "South Africa (HIV country): 15\u221259"]
title_y = [21, 423, 825]
stamp_y = [403.5, 805.5, 1207.5]

axes = []
for r, (t, b, y1, y0) in enumerate(rows_px):
    axes.append(panel(83, t, 555, b, y0, y1, "Male"))
    axes.append(panel(707, t, 1179, b, y0, y1, "Female"))
    fig.text(634.5 / W, 1 - title_y[r] / H, titles[r], ha="center", va="center", fontsize=18, fontweight="bold", color="black")
    fig.text(1259 / W, 1 - stamp_y[r] / H, "2025-10-31 15:57:33", ha="right", va="center", fontsize=5.3, color="#222222")

# Cote d'Ivoire, male
ax = axes[0]
main_curves(ax, ci_m_x, ci_m_inla, ci_m_band_x, ci_m_lo, ci_m_hi, ci_m_gbd_x, ci_m_gbd, ci_m_wpp_x, ci_m_wpp)
band(ax, ci_m_eis_band, ORANGE)
band(ax, ci_m_dhs11_band, CYAN)
obs(ax, ci_m_edpr, ORANGE1, "dplus")
obs(ax, ci_m_c88, PURPLE, "sib")
obs(ax, ci_m_dhs94, YGREEN, "orph")
obs(ax, ci_m_c98, SEA3, "dia")
obs(ax, ci_m_mics00, PINK, "orph")
obs(ax, ci_m_eis_sib, ORANGE, "sib", line=True)
obs(ax, ci_m_eis_orph, ORANGE, "orph")
obs(ax, ci_m_mics06, CORN, "orph")
obs(ax, ci_m_dhs11_sib, CYAN, "sib", line=True)
obs(ax, ci_m_dhs11_orph, CYAN, "orph")
obs(ax, ci_m_c14, SEA4, "dia")
obs(ax, ci_m_mics16, SALMON, "orph")
survey_legend(ax, ci_m_labels, ci_m_cols, 135.5)
curve_legend(ax)

# Cote d'Ivoire, female
ax = axes[1]
main_curves(ax, ci_f_x, ci_f_inla, ci_f_band_x, ci_f_lo, ci_f_hi, ci_f_gbd_x, ci_f_gbd, ci_f_wpp_x, ci_f_wpp)
band(ax, ci_f_eis_band, ORANGE)
band(ax, ci_f_dhs11_band, CORN)
obs(ax, ci_f_edpr_d, ORANGE1, "dplus")
obs(ax, ci_f_edpr_o, ORANGE1, "orph")
obs(ax, ci_f_c88, PURPLE, "dia")
obs(ax, ci_f_dhs94, YGREEN, "orph")
obs(ax, ci_f_c98_o, SEA3, "orph")
obs(ax, ci_f_c98_o2, SEA3, "orph")
obs(ax, ci_f_c98_d, SEA3, "dia")
obs(ax, ci_f_mics00, PINK, "orph")
obs(ax, ci_f_eis_sib, ORANGE, "sib", line=True)
obs(ax, ci_f_eis_orph, ORANGE, "orph")
obs(ax, ci_f_dhs11_sib, CORN, "sib", line=True)
obs(ax, ci_f_dhs11_orph, CORN, "orph")
obs(ax, ci_f_c14, CYAN, "dia")
obs(ax, ci_f_mics16, SEA4, "orph")
survey_legend(ax, ci_f_labels, ci_f_cols, 135)
method_legend(ax)

# Ethiopia, male
ax = axes[2]
main_curves(ax, et_m_x, et_m_inla, et_m_band_x, et_m_lo, et_m_hi, et_m_gbd_x, et_m_gbd, et_m_wpp_x, et_m_wpp)
band(ax, et_m_d00_band, PURPLE)
band(ax, et_m_d05_band, YGREEN)
band(ax, et_m_c07_band, SEA3)
band(ax, et_m_d11_band, PINK)
band(ax, et_m_d16_band, ORANGE)
obs(ax, et_m_tall, GREY, "none")
obs(ax, et_m_c94_w, ORANGE1, "wid", line=True)
obs(ax, et_m_c94_d, ORANGE1, "dia")
obs(ax, et_m_d00_s, PURPLE, "sib", line=True)
obs(ax, et_m_d00_w, PURPLE, "wid")
obs(ax, et_m_d00_o, PURPLE, "orph")
obs(ax, et_m_d05_s, YGREEN, "sib", line=True)
obs(ax, et_m_d05_o, YGREEN, "orph")
obs(ax, et_m_c07_d, SEA3, "dia")
obs(ax, et_m_c07_o, SEA3, "orph")
obs(ax, et_m_c07_w, SEA3, "wid")
obs(ax, et_m_d11_s, PINK, "sib", line=True)
obs(ax, et_m_d11_w, PINK, "wid", line=True)
obs(ax, et_m_d16_s, ORANGE, "sib", line=True)
obs(ax, et_m_d16_w, ORANGE, "wid", line=True)
survey_legend(ax, et_labels, et_cols, 123)
curve_legend(ax)

# Ethiopia, female
ax = axes[3]
main_curves(ax, et_f_x, et_f_inla, et_f_band_x, et_f_lo, et_f_hi, et_f_gbd_x, et_f_gbd, et_f_wpp_x, et_f_wpp)
band(ax, et_f_d00_band, PURPLE)
band(ax, et_f_d05_band, YGREEN)
band(ax, et_f_d11_band, PINK)
band(ax, et_f_d16_band, ORANGE)
obs(ax, et_f_c94, ORANGE1, "dia")
obs(ax, et_f_d00_s, PURPLE, "sib", line=True)
obs(ax, et_f_d00_o, PURPLE, "orph")
obs(ax, et_f_d05_s, YGREEN, "sib", line=True)
obs(ax, et_f_d05_o, YGREEN, "orph")
obs(ax, et_f_c07_d, SEA3, "dia", line=True)
obs(ax, et_f_c07_o, SEA3, "orph")
obs(ax, et_f_d11_s, PINK, "sib", line=True)
obs(ax, et_f_d11_o, PINK, "orph")
obs(ax, et_f_d16_s, ORANGE, "sib", line=True)
obs(ax, et_f_d16_o, ORANGE, "orph")
survey_legend(ax, et_labels, et_cols, 123.5)
method_legend(ax)

# South Africa, male
ax = axes[4]
main_curves(ax, za_m_x, za_m_inla, za_m_band_x, za_m_lo, za_m_hi, za_m_gbd_x, za_m_gbd, za_m_wpp_x, za_m_wpp)
band(ax, za_m_band_dhs98, CORN)
band(ax, za_m_band_dhs03, SEA4)
band(ax, za_m_band_dhs16, MAGENTA)
band(ax, za_m_band_c80, YGREEN)
band(ax, za_m_band_c85, SEA3)
band(ax, za_m_band_c91, PINK)
obs(ax, za_m_tall, GREY, "none")
obs(ax, za_m_c60, ORANGE1, "dia")
obs(ax, za_m_c70, PURPLE, "dia")
obs(ax, za_m_c80_d, YGREEN, "dia")
obs(ax, za_m_c85_d, SEA3, "dia")
obs(ax, za_m_c96_d, ORANGE, "dia")
obs(ax, za_m_c01_s, CYAN, "square")
obs(ax, za_m_c01_d, CYAN, "dia")
obs(ax, za_m_nids, NIDS, "square")
obs(ax, za_m_c11_d, RED, "dia", line=True)
obs(ax, za_m_cs07_d, SALMON, "dia")
obs(ax, za_m_c80_w, YGREEN, "wid", line=True)
obs(ax, za_m_c85_w, SEA3, "wid", line=True)
obs(ax, za_m_c91_w, PINK, "wid", line=True)
obs(ax, za_m_c96_w, ORANGE, "wid", line=True)
obs(ax, za_m_est, PERU, "x", line=True)
obs(ax, za_m_ohs, YGREEN, "orph")
obs(ax, za_m_cs07_o, SALMON, "orph")
obs(ax, za_m_reg_o, MAROON, "orph")
obs(ax, za_m_reg_l, MAROON, "life", line=True)
obs(ax, za_m_rms, RMS, "orph")
obs(ax, za_m_dhs98, CORN, "sib", line=True)
obs(ax, za_m_dhs03, SEA4, "sib", line=True)
obs(ax, za_m_dhs16, MAGENTA, "sib", line=True)
obs(ax, za_m_cs16, NAVY, "orph")
obs(ax, za_m_d16_o, MAGENTA, "orph")
survey_legend(ax, za_labels, za_cols, 131)
curve_legend(ax)

# South Africa, female
ax = axes[5]
main_curves(ax, za_f_x, za_f_inla, za_f_band_x, za_f_lo, za_f_hi, za_f_gbd_x, za_f_gbd, za_f_wpp_x, za_f_wpp)
band(ax, za_f_band_dhs98, CORN)
band(ax, za_f_band_dhs03, SEA4)
band(ax, za_f_band_dhs16, MAGENTA)
obs(ax, za_f_tall, GREY, "none")
obs(ax, za_f_c60, ORANGE1, "dia")
obs(ax, za_f_c70, PURPLE, "dia")
obs(ax, za_f_c80_d, YGREEN, "dia")
obs(ax, za_f_c91_d, PINK, "dia")
obs(ax, za_f_c01_d, CYAN, "dia")
obs(ax, za_f_cs07_d, SALMON, "dia")
obs(ax, za_f_nids, NIDS, "square")
obs(ax, za_f_est, PERU, "x", line=True)
obs(ax, za_f_ohs, YGREEN, "orph")
obs(ax, za_f_c96_o, ORANGE, "orph")
obs(ax, za_f_c01_o, CYAN, "orph")
obs(ax, za_f_c11_o, RED, "orph")
obs(ax, za_f_reg_o, MAROON, "orph")
obs(ax, za_f_reg_l, MAROON, "life", line=True)
obs(ax, za_f_rms, RMS, "orph")
obs(ax, za_f_dhs98, CORN, "sib", line=True)
obs(ax, za_f_dhs03, SEA4, "sib", line=True)
obs(ax, za_f_dhs16, MAGENTA, "sib", line=True)
obs(ax, za_f_cs16, NAVY, "orph")
obs(ax, za_f_d16_o, MAGENTA, "orph")
survey_legend(ax, za_labels, za_cols, 131.5)
method_legend(ax)

fig.savefig("out.png", dpi=100)
